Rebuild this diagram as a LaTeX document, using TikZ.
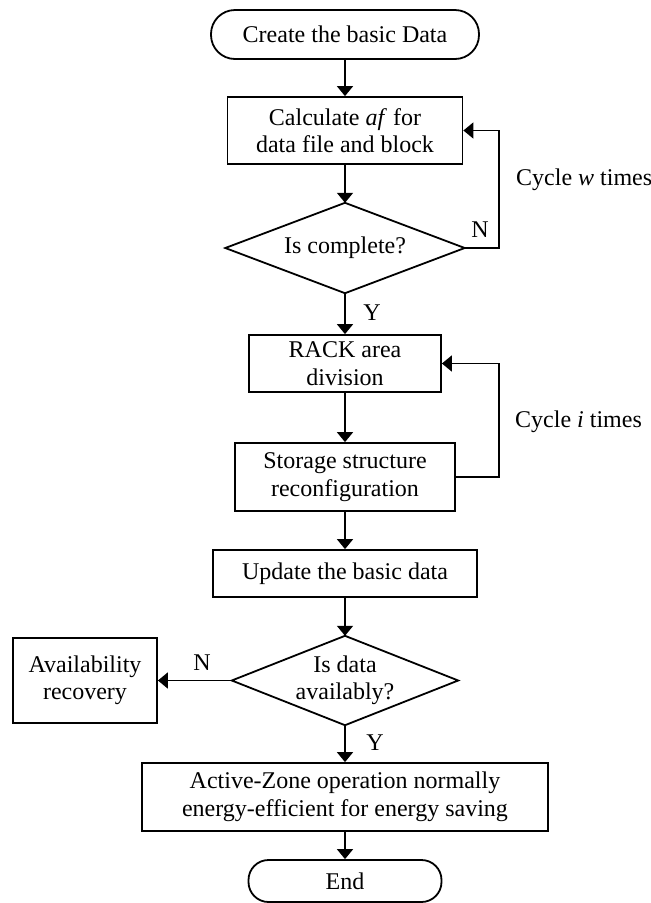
\documentclass[tikz,border=0pt]{standalone}
\usepackage{fontspec}
\setmainfont{Liberation Serif}
\usetikzlibrary{arrows.meta}
\tikzset{
  base/.style={draw=black, line width=1.8pt, inner sep=0pt, align=center, font=\fontsize{24}{27.5}\selectfont},
  term/.style={base, rectangle},
  proc/.style={base, rectangle},
  decis/.style={rectangle, inner sep=0pt, align=center, font=\fontsize{24}{27.5}\selectfont},
  diaedge/.style={line width=1.8pt, line join=miter},
  lbl/.style={inner sep=0pt, font=\fontsize{24}{27.5}\selectfont},
  arr/.style={line width=1.8pt, -{Triangle[length=10pt,width=16pt]}},
}
\begin{document}
\begin{tikzpicture}[x=1pt,y=-1pt]
\useasboundingbox (0,0) rectangle (651,903);
\node[term, minimum width=268pt, minimum height=49pt, rounded corners=24pt] (start) at (345,34.5) {Create the basic Data};
\node[proc, minimum width=235pt, minimum height=67pt] (calc) at (345,130.5) {Calculate \textit{af} for\\data file and block};
\node[decis, minimum width=239pt, minimum height=90pt] (d1) at (345,248) {Is complete?};
\draw[diaedge] (d1.north) -- (d1.east) -- (d1.south) -- (d1.west) -- cycle;
\node[proc, minimum width=192pt, minimum height=57pt] (rack) at (345,363.5) {RACK area\\division};
\node[proc, minimum width=220pt, minimum height=68pt] (stor) at (345,477) {Storage structure\\reconfiguration};
\node[proc, minimum width=264pt, minimum height=47pt] (upd) at (345,573.5) {Update the basic data};
\node[decis, minimum width=226pt, minimum height=89pt] (d2) at (345,680.5) {Is data\\availably?};
\draw[diaedge] (d2.north) -- (d2.east) -- (d2.south) -- (d2.west) -- cycle;
\node[proc, minimum width=144pt, minimum height=85pt] (avail) at (85,680.5) {Availability\\recovery};
\node[proc, minimum width=406pt, minimum height=68pt] (act) at (345,797) {Active-Zone operation normally\\energy-efficient for energy saving};
\node[term, minimum width=193pt, minimum height=42pt, rounded corners=20pt] (end) at (345,881) {End};

\coordinate (c1) at (499,248);
\coordinate (c2) at (499,477);

\draw[arr] (start) -- (calc);
\draw[arr] (calc) -- (d1);
\draw[arr] (d1) -- (rack);
\draw[arr] (rack) -- (stor);
\draw[arr] (stor) -- (upd);
\draw[arr] (upd) -- (d2);
\draw[arr] (d2) -- (act);
\draw[arr] (act) -- (end);
\draw[arr] (d2.west) -- (avail.east);
\draw[arr] (d1.east) -- (c1) |- (calc.east);
\draw[arr] (stor.east) -- (c2) |- (rack.east);

\node[lbl] (n1) at (480,230) {N};
\node[lbl] (y1) at (372,313) {Y};
\node[lbl, anchor=west] (cw) at (516,180) {Cycle \textit{w} times};
\node[lbl, anchor=west] (ci) at (515,422) {Cycle \textit{i} times};
\node[lbl] (n2) at (202,663) {N};
\node[lbl] (y2) at (375,743) {Y};
\end{tikzpicture}
\end{document}
